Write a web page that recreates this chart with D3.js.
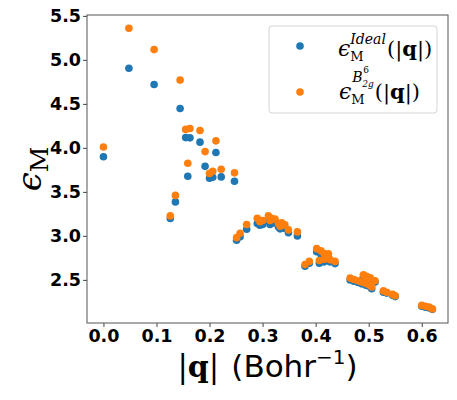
<!DOCTYPE html>
<html>
<head>
<meta charset="utf-8">
<script src="https://cdn.jsdelivr.net/npm/d3@7"></script>
<style>
  body { margin: 0; background: #fff; }
  svg { display: block; }
</style>
</head>
<body>
<svg width="457" height="400"></svg>
<script>
// |q| values (Bohr^-1) and the two dielectric curves
var qVals = [0.000, 0.048, 0.0955, 0.1445, 0.155, 0.163, 0.182, 0.212, 0.1916, 0.159,
  0.200, 0.206, 0.222, 0.247, 0.1357, 0.126,
  0.251, 0.2576, 0.270, 0.290, 0.295, 0.300, 0.311, 0.314, 0.317, 0.3235,
  0.330, 0.333, 0.336, 0.342, 0.3487, 0.3656,
  0.380, 0.388, 0.402, 0.410, 0.416, 0.407, 0.416, 0.424, 0.427, 0.4366,
  0.465, 0.472, 0.480, 0.487, 0.495, 0.500, 0.5057, 0.490, 0.496, 0.503, 0.512,
  0.5277, 0.534, 0.545, 0.550, 0.600, 0.607, 0.614, 0.620];

var epsIdeal = [3.90, 4.905, 4.72, 4.447, 4.117, 4.114, 4.065, 3.947, 3.79, 3.678,
  3.656, 3.667, 3.67, 3.62, 3.386, 3.197,
  2.95, 2.99, 3.076, 3.14, 3.12, 3.13, 3.17, 3.13, 3.15, 3.145,
  3.10, 3.08, 3.11, 3.085, 3.035, 3.00,
  2.655, 2.69, 2.82, 2.79, 2.77, 2.69, 2.705, 2.76, 2.705, 2.685,
  2.50, 2.485, 2.47, 2.455, 2.44, 2.43, 2.40, 2.535, 2.52, 2.51, 2.475,
  2.36, 2.35, 2.325, 2.31, 2.20, 2.19, 2.18, 2.165];

var epsB2g = [4.01, 5.36, 5.117, 4.77, 4.21, 4.22, 4.197, 4.08, 3.958, 3.826,
  3.71, 3.735, 3.758, 3.716, 3.46, 3.227,
  2.98, 3.03, 3.13, 3.20, 3.16, 3.175, 3.227, 3.175, 3.20, 3.19,
  3.14, 3.11, 3.15, 3.125, 3.068, 3.045,
  2.675, 2.71, 2.855, 2.83, 2.80, 2.72, 2.735, 2.795, 2.73, 2.71,
  2.52, 2.505, 2.49, 2.475, 2.46, 2.447, 2.42, 2.557, 2.54, 2.525, 2.49,
  2.375, 2.36, 2.335, 2.32, 2.21, 2.20, 2.19, 2.17];

var xTicks = [0.0, 0.1, 0.2, 0.3, 0.4, 0.5, 0.6];
var yTicks = [2.5, 3.0, 3.5, 4.0, 4.5, 5.0, 5.5];

var blue = "#1f77b4", orange = "#ff7f0e";
var serif = "DejaVu Serif", sans = "DejaVu Sans";

var svg = d3.select("svg");

var x = d3.scaleLinear().domain([-0.031, 0.6495]).range([87, 448]);
var y = d3.scaleLinear().domain([2.01, 5.51]).range([323, 15]);

// axes
var xAxis = svg.append("g")
    .attr("transform", "translate(0,323)")
    .call(d3.axisBottom(x).tickValues(xTicks).tickFormat(d3.format(".1f")).tickSize(4).tickPadding(3).tickSizeOuter(0));
var yAxis = svg.append("g")
    .attr("transform", "translate(87,0)")
    .call(d3.axisLeft(y).tickValues(yTicks).tickFormat(d3.format(".1f")).tickSize(4).tickPadding(2).tickSizeOuter(0));

[xAxis, yAxis].forEach(function(a) {
  a.select(".domain").remove();
  a.selectAll("line").attr("stroke", "#444");
  a.selectAll("text")
    .attr("font-family", sans)
    .attr("font-weight", "bold")
    .attr("font-size", 17.5)
    .attr("fill", "#000");
});

svg.append("rect")
    .attr("x", 87).attr("y", 15)
    .attr("width", 448 - 87).attr("height", 323 - 15)
    .attr("fill", "none")
    .attr("stroke", "#555")
    .attr("stroke-width", 1);

// points: ideal first, B2g drawn over it
var rows = qVals.map(function(q, i) { return { q: q, a: epsIdeal[i], b: epsB2g[i] }; });

svg.append("g").selectAll("circle").data(rows).enter().append("circle")
    .attr("cx", function(d) { return x(d.q); })
    .attr("cy", function(d) { return y(d.a); })
    .attr("r", 3.8)
    .attr("fill", blue);

svg.append("g").selectAll("circle").data(rows).enter().append("circle")
    .attr("cx", function(d) { return x(d.q); })
    .attr("cy", function(d) { return y(d.b); })
    .attr("r", 3.8)
    .attr("fill", orange);

// lay out a little math string piece by piece; arrays are stacked sub/superscripts
function mathText(parent, parts) {
  var g = parent.append("g");
  var cursor = 0;
  function put(p, x0) {
    var t = g.append("text")
        .attr("x", x0 + (p.dx || 0))
        .attr("y", p.dy || 0)
        .attr("font-family", p.f || serif)
        .attr("font-size", p.s)
        .attr("font-style", p.i ? "italic" : "normal")
        .attr("font-weight", p.b ? "bold" : "normal")
        .attr("fill", "#000")
        .text(p.t);
    return (p.dx || 0) + t.node().getComputedTextLength();
  }
  parts.forEach(function(p) {
    if (Array.isArray(p)) {
      var w = 0;
      p.forEach(function(q) { w = Math.max(w, put(q, cursor)); });
      cursor += w + 1;
    } else {
      cursor += put(p, cursor) + (p.gap || 0);
    }
  });
  return { g: g, width: cursor };
}

// legend
svg.append("rect")
    .attr("x", 269).attr("y", 26)
    .attr("width", 168).attr("height", 87)
    .attr("rx", 3)
    .attr("fill", "#fff").attr("fill-opacity", 0.8)
    .attr("stroke", "#d5d5d5");

svg.append("circle").attr("cx", 300).attr("cy", 46).attr("r", 3.8).attr("fill", blue);
svg.append("circle").attr("cx", 300).attr("cy", 92).attr("r", 3.8).attr("fill", orange);

var leg1 = mathText(svg, [
  { t: "ϵ", s: 22, i: true },
  [{ t: "M", s: 13, dy: 5 }, { t: "Ideal", s: 14, i: true, dy: -12 }],
  { t: "(|", s: 21 }, { t: "q", s: 21, b: true }, { t: "|)", s: 21 }
]);
leg1.g.attr("transform", "translate(338,56)");

var leg2 = mathText(svg, [
  { t: "ϵ", s: 22, i: true },
  [{ t: "M", s: 13, dy: 5 }, { t: "B", s: 14, i: true, dy: -17, dx: 1 },
   { t: "2g", s: 9, i: true, dy: -12, dx: 11 }, { t: "6", s: 9, dy: -26, dx: 12 }],
  { t: "(|", s: 21 }, { t: "q", s: 21, b: true }, { t: "|)", s: 21 }
]);
leg2.g.attr("transform", "translate(339,99)");

// x label
var xl = mathText(svg, [
  { t: "|", s: 31 }, { t: "q", s: 30, b: true }, { t: "|", s: 31, gap: 12 },
  { t: "(Bohr", s: 31, f: sans },
  { t: "−1", s: 20, f: sans, dy: -13 },
  { t: ")", s: 31, f: sans }
]);
xl.g.attr("transform", "translate(" + (267.5 - xl.width / 2) + ",377)");

// y label
var yl = mathText(svg, [
  { t: "ϵ", s: 34, i: true },
  { t: "M", s: 25, dy: 7 }
]);
yl.g.attr("transform", "translate(41," + (169 + yl.width / 2) + ") rotate(-90)");
</script>
</body>
</html>
